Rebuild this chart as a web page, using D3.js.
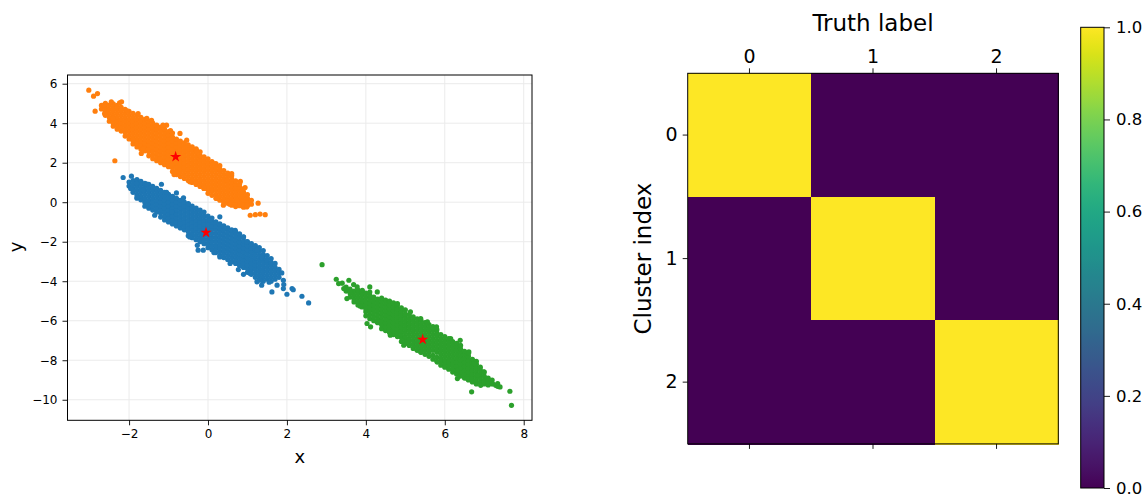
<!DOCTYPE html>
<html>
<head>
<meta charset="utf-8">
<script src="https://cdn.jsdelivr.net/npm/d3@7"></script>
<style>
  body { margin: 0; background: #fff; }
  svg { display: block; }
  text { font-family: "DejaVu Sans", sans-serif; fill: #000; }
</style>
</head>
<body>
<svg id="fig" width="1147" height="497"></svg>
<script>
// ---------- scatter: tick values ----------
const xTicks = [-2, 0, 2, 4, 6, 8];
const yTicks = [-10, -8, -6, -4, -2, 0, 2, 4, 6];

// ---------- scatter: samples of each cluster ----------
// dense part, stored as columns: [x, [y, y, ...]]
const blueCore = [
  [-2.0, [0.82, 1.02]],
  [-1.9, [0.5, 0.7, 0.9, 1.1]],
  [-1.8, [0.2, 0.4, 0.6, 0.8, 1.0, 1.15]],
  [-1.7, [0.12, 0.3, 0.5, 0.7, 0.9, 1.05]],
  [-1.6, [-0.2, 0.0, 0.2, 0.4, 0.6, 0.8, 0.95]],
  [-1.5, [-0.3, -0.1, 0.1, 0.3, 0.5, 0.7, 0.9]],
  [-1.4, [-0.4, -0.2, 0.0, 0.2, 0.4, 0.6, 0.8]],
  [-1.3, [-0.5, -0.3, -0.1, 0.1, 0.3, 0.5, 0.7]],
  [-1.2, [-0.75, -0.55, -0.4, -0.2, 0.0, 0.2, 0.4, 0.6]],
  [-1.1, [-0.9, -0.7, -0.5, -0.3, -0.1, 0.1, 0.3, 0.5]],
  [-1.0, [-1.0, -0.8, -0.6, -0.4, -0.2, 0.0, 0.2, 0.4]],
  [-0.9, [-1.1, -0.9, -0.7, -0.5, -0.3, -0.1, 0.1, 0.3]],
  [-0.8, [-1.2, -1.0, -0.8, -0.6, -0.4, -0.2, 0.0, 0.2]],
  [-0.7, [-1.3, -1.1, -0.9, -0.7, -0.5, -0.3, -0.1, 0.1]],
  [-0.6, [-1.4, -1.2, -1.0, -0.8, -0.6, -0.4, -0.2, 0.0]],
  [-0.5, [-1.7, -1.5, -1.3, -1.1, -0.9, -0.7, -0.5, -0.3, -0.1]],
  [-0.4, [-1.8, -1.6, -1.4, -1.2, -1.0, -0.8, -0.6, -0.4, -0.2]],
  [-0.3, [-1.9, -1.7, -1.5, -1.3, -1.1, -0.9, -0.7, -0.5, -0.3]],
  [-0.2, [-2.0, -1.8, -1.6, -1.4, -1.2, -1.0, -0.8, -0.6, -0.4]],
  [-0.1, [-2.1, -1.9, -1.7, -1.5, -1.3, -1.1, -0.9, -0.7, -0.5]],
  [0.0, [-2.3, -2.1, -1.9, -1.7, -1.5, -1.3, -1.1, -0.9, -0.7]],
  [0.1, [-2.4, -2.2, -2.0, -1.8, -1.6, -1.4, -1.2, -1.0, -0.8]],
  [0.2, [-2.55, -2.35, -2.2, -2.0, -1.8, -1.6, -1.4, -1.2, -1.0]],
  [0.3, [-2.7, -2.5, -2.3, -2.1, -1.9, -1.7, -1.5, -1.3, -1.1]],
  [0.4, [-2.8, -2.6, -2.4, -2.2, -2.0, -1.8, -1.6, -1.4, -1.2]],
  [0.5, [-2.9, -2.7, -2.5, -2.3, -2.1, -1.9, -1.7, -1.5, -1.3]],
  [0.6, [-3.0, -2.8, -2.6, -2.4, -2.2, -2.0, -1.8, -1.6, -1.4]],
  [0.7, [-3.1, -2.9, -2.7, -2.5, -2.3, -2.1, -1.9, -1.7, -1.5]],
  [0.8, [-3.2, -3.0, -2.8, -2.6, -2.4, -2.2, -2.0, -1.8, -1.6]],
  [0.9, [-3.3, -3.1, -2.9, -2.7, -2.5, -2.3, -2.1, -1.95, -1.75]],
  [1.0, [-3.55, -3.35, -3.2, -3.0, -2.8, -2.6, -2.4, -2.2, -2.0]],
  [1.1, [-3.65, -3.45, -3.3, -3.1, -2.9, -2.7, -2.5, -2.3, -2.1]],
  [1.2, [-3.8, -3.6, -3.4, -3.2, -3.0, -2.8, -2.6, -2.4, -2.2]],
  [1.3, [-3.9, -3.7, -3.5, -3.3, -3.1, -2.9, -2.7, -2.5, -2.3]],
  [1.4, [-4.0, -3.8, -3.6, -3.4, -3.2, -3.0, -2.8, -2.65, -2.45]],
  [1.5, [-3.9, -3.7, -3.5, -3.3, -3.1, -2.9, -2.7]],
  [1.6, [-4.0, -3.8, -3.6, -3.4, -3.2, -3.05, -2.85]],
  [1.7, [-3.9, -3.7, -3.5, -3.3, -3.1]],
  [1.8, [-3.8, -3.6, -3.4]]
];
// sparse points around the dense part: [x, y]
const blueSpread = [
  [-2.15, 1.25], [-1.94, 1.32], [-1.81, 0.95], [-1.18, 0.91], [-1.96, 0.69],
  [-1.80, 0.27], [-1.35, -0.66], [-0.80, 0.47], [-0.25, -2.43], [-0.12, -2.43],
  [0.69, -1.42], [2.13, -4.37], [2.38, -4.76], [2.55, -5.10], [1.87, -3.58],
  [1.91, -3.95], [1.62, -4.54], [2.00, -4.66], [1.36, -4.20], [1.24, -4.03],
  [0.90, -3.65], [0.77, -3.41], [1.92, -4.17], [2.16, -4.43], [-1.64, 0.61],
  [-0.50, -0.07], [0.05, -0.91], [0.30, -0.74], [0.90, -1.76], [0.98, -2.01],
  [1.24, -2.43], [1.36, -2.77], [1.49, -2.94], [-0.92, -0.49], [-0.71, -1.08],
  [-0.46, -1.76], [-0.27, -2.18], [0.30, -2.77], [0.56, -3.10], [1.07, -3.61],
  [1.32, -3.95], [1.75, -4.20], [1.91, -4.37], [-1.55, 0.92], [-1.05, 0.50],
  [-0.62, 0.22], [0.15, -2.55], [1.55, -4.05]
];

const orangeCore = [
  [-2.7, [4.72, 4.9]],
  [-2.6, [4.4, 4.6, 4.8, 5.0]],
  [-2.5, [4.1, 4.3, 4.5, 4.7, 4.92]],
  [-2.4, [3.85, 4.0, 4.2, 4.4, 4.6, 4.8, 4.98]],
  [-2.3, [3.7, 3.9, 4.1, 4.3, 4.5, 4.7, 4.9]],
  [-2.2, [3.6, 3.8, 4.0, 4.2, 4.4, 4.6, 4.8]],
  [-2.1, [3.35, 3.55, 3.7, 3.9, 4.1, 4.3, 4.5, 4.7]],
  [-2.0, [3.2, 3.4, 3.6, 3.8, 4.0, 4.2, 4.4, 4.6]],
  [-1.9, [2.95, 3.15, 3.3, 3.5, 3.7, 3.9, 4.1, 4.3, 4.5]],
  [-1.8, [2.8, 3.0, 3.2, 3.4, 3.6, 3.8, 4.0, 4.2, 4.4]],
  [-1.7, [2.7, 2.9, 3.1, 3.3, 3.5, 3.7, 3.9, 4.1, 4.3]],
  [-1.6, [2.6, 2.8, 3.0, 3.2, 3.4, 3.6, 3.8, 4.0, 4.2]],
  [-1.5, [2.35, 2.55, 2.7, 2.9, 3.1, 3.3, 3.5, 3.7, 3.9, 4.1]],
  [-1.4, [2.2, 2.4, 2.6, 2.8, 3.0, 3.2, 3.4, 3.6, 3.8, 4.0]],
  [-1.3, [2.1, 2.3, 2.5, 2.7, 2.9, 3.1, 3.3, 3.5, 3.7, 3.9]],
  [-1.2, [2.0, 2.2, 2.4, 2.6, 2.8, 3.0, 3.2, 3.4, 3.6, 3.8]],
  [-1.1, [1.9, 2.1, 2.3, 2.5, 2.7, 2.9, 3.1, 3.3, 3.5, 3.7]],
  [-1.0, [1.8, 2.0, 2.2, 2.4, 2.6, 2.8, 3.0, 3.2, 3.4, 3.58]],
  [-0.9, [1.55, 1.75, 1.9, 2.1, 2.3, 2.5, 2.7, 2.9, 3.1, 3.3, 3.5]],
  [-0.8, [1.4, 1.6, 1.8, 2.0, 2.2, 2.4, 2.6, 2.8, 3.0, 3.2]],
  [-0.7, [1.3, 1.5, 1.7, 1.9, 2.1, 2.3, 2.5, 2.7, 2.9, 3.1]],
  [-0.6, [1.2, 1.4, 1.6, 1.8, 2.0, 2.2, 2.4, 2.6, 2.8, 3.0]],
  [-0.5, [1.1, 1.3, 1.5, 1.7, 1.9, 2.1, 2.3, 2.5, 2.7, 2.9]],
  [-0.4, [1.0, 1.2, 1.4, 1.6, 1.8, 2.0, 2.2, 2.4, 2.6, 2.8]],
  [-0.3, [0.9, 1.1, 1.3, 1.5, 1.7, 1.9, 2.1, 2.3, 2.5, 2.7]],
  [-0.2, [0.8, 1.0, 1.2, 1.4, 1.6, 1.8, 2.0, 2.2, 2.35, 2.55]],
  [-0.1, [0.7, 0.9, 1.1, 1.3, 1.5, 1.7, 1.9, 2.1, 2.3]],
  [0.0, [0.45, 0.65, 0.8, 1.0, 1.2, 1.4, 1.6, 1.8, 2.0, 2.2]],
  [0.1, [0.35, 0.55, 0.7, 0.9, 1.1, 1.3, 1.5, 1.7, 1.9, 2.05]],
  [0.2, [0.2, 0.4, 0.6, 0.8, 1.0, 1.2, 1.4, 1.6, 1.8, 1.95]],
  [0.3, [0.1, 0.3, 0.5, 0.7, 0.9, 1.1, 1.3, 1.5, 1.68, 1.85]],
  [0.4, [0.0, 0.2, 0.4, 0.6, 0.8, 1.0, 1.2, 1.4, 1.6]],
  [0.5, [-0.05, 0.12, 0.3, 0.5, 0.7, 0.9, 1.1, 1.3, 1.48]],
  [0.6, [-0.15, 0.02, 0.2, 0.4, 0.6, 0.8, 1.0, 1.18, 1.35]],
  [0.7, [-0.22, -0.08, 0.1, 0.3, 0.5, 0.7, 0.9, 1.08]],
  [0.8, [-0.18, 0.0, 0.2, 0.4, 0.6, 0.78, 0.92]],
  [0.9, [-0.25, -0.1, 0.1, 0.3, 0.5, 0.68]],
  [1.0, [-0.18, 0.0, 0.2, 0.38]],
  [1.1, [-0.1, 0.1]]
];
const orangeSpread = [
  [-3.02, 5.67], [-2.90, 5.37], [-2.80, 5.50], [-2.86, 4.61], [-2.64, 4.91],
  [-2.62, 4.49], [-2.45, 5.08], [-2.24, 5.03], [-2.36, 2.10], [-1.69, 2.47],
  [1.07, -0.66], [1.20, -0.63], [1.32, -0.60], [1.45, -0.63], [1.27, -0.05],
  [0.98, -0.24], [-1.05, 3.90], [-0.54, 3.14], [-0.29, 2.63], [0.14, 1.96],
  [0.94, 0.74], [0.48, 1.11], [-0.86, 1.40], [-0.46, 1.03], [0.22, 0.19],
  [0.39, -0.15], [0.73, 0.10], [0.98, -0.15], [-2.19, 5.08], [-1.77, 4.49],
  [-1.43, 4.15], [-1.90, 3.14], [-1.64, 2.72], [-1.22, 2.21], [-1.14, 3.90],
  [-0.71, 3.48], [-0.29, 2.55], [-2.41, 4.24], [-2.05, 4.62], [-1.55, 4.25],
  [-0.95, 3.62], [0.60, 1.45], [0.82, 1.05], [-0.10, 0.70], [0.55, -0.10]
];

const greenCore = [
  [3.5, [-4.5, -4.3]],
  [3.6, [-4.8, -4.6, -4.4]],
  [3.7, [-5.05, -4.9, -4.7, -4.5]],
  [3.8, [-5.2, -5.0, -4.8, -4.6, -4.45]],
  [3.9, [-5.3, -5.1, -4.9, -4.7, -4.52]],
  [4.0, [-5.75, -5.55, -5.4, -5.2, -5.0, -4.8, -4.6]],
  [4.1, [-5.9, -5.7, -5.5, -5.3, -5.1, -4.9, -4.72, -4.55]],
  [4.2, [-6.0, -5.8, -5.6, -5.4, -5.2, -5.0, -4.8]],
  [4.3, [-6.1, -5.9, -5.7, -5.5, -5.3, -5.1, -4.9]],
  [4.4, [-6.4, -6.2, -6.0, -5.8, -5.6, -5.4, -5.2, -5.0, -4.85]],
  [4.5, [-6.5, -6.3, -6.1, -5.9, -5.7, -5.5, -5.3, -5.1, -4.95]],
  [4.6, [-6.6, -6.4, -6.2, -6.0, -5.8, -5.6, -5.4, -5.2, -5.0]],
  [4.7, [-6.7, -6.5, -6.3, -6.1, -5.9, -5.7, -5.5, -5.3, -5.1]],
  [4.8, [-6.8, -6.6, -6.4, -6.2, -6.0, -5.8, -5.6, -5.4, -5.2]],
  [4.9, [-7.05, -6.85, -6.7, -6.5, -6.3, -6.1, -5.9, -5.7, -5.52, -5.35]],
  [5.0, [-7.15, -6.95, -6.8, -6.6, -6.4, -6.2, -6.0, -5.8, -5.65, -5.45]],
  [5.1, [-7.25, -7.05, -6.9, -6.7, -6.5, -6.3, -6.1, -5.9, -5.7]],
  [5.2, [-7.4, -7.2, -7.0, -6.8, -6.6, -6.4, -6.2, -6.0, -5.8]],
  [5.3, [-7.5, -7.3, -7.1, -6.9, -6.7, -6.5, -6.3, -6.1, -5.9]],
  [5.4, [-7.6, -7.4, -7.2, -7.0, -6.8, -6.6, -6.4, -6.2, -6.0]],
  [5.5, [-7.7, -7.5, -7.3, -7.1, -6.9, -6.7, -6.5, -6.3, -6.1]],
  [5.6, [-7.8, -7.6, -7.4, -7.2, -7.0, -6.8, -6.6, -6.4, -6.2]],
  [5.7, [-7.95, -7.75, -7.5, -7.3, -7.1, -6.9, -6.7, -6.5, -6.3]],
  [5.8, [-8.05, -7.85, -7.6, -7.4, -7.2, -7.0, -6.8, -6.62, -6.45]],
  [5.9, [-8.25, -8.05, -7.9, -7.7, -7.5, -7.3, -7.1, -6.9, -6.7]],
  [6.0, [-8.35, -8.15, -8.0, -7.8, -7.6, -7.4, -7.2, -7.0, -6.8]],
  [6.1, [-8.45, -8.25, -8.1, -7.9, -7.7, -7.5, -7.3, -7.1, -6.9]],
  [6.2, [-8.6, -8.4, -8.2, -8.0, -7.8, -7.6, -7.4, -7.2, -7.05]],
  [6.3, [-8.7, -8.5, -8.3, -8.1, -7.9, -7.7, -7.5, -7.3, -7.15]],
  [6.4, [-8.8, -8.6, -8.4, -8.2, -8.0, -7.8, -7.6, -7.42, -7.25]],
  [6.5, [-8.9, -8.7, -8.5, -8.3, -8.1, -7.9, -7.7, -7.55]],
  [6.6, [-9.0, -8.8, -8.6, -8.4, -8.2, -8.0, -7.8, -7.65]],
  [6.7, [-9.1, -8.9, -8.7, -8.5, -8.3, -8.1, -7.95]],
  [6.8, [-9.2, -9.0, -8.8, -8.6, -8.4, -8.2, -8.05]],
  [6.9, [-9.1, -8.9, -8.7, -8.5, -8.35]],
  [7.0, [-9.2, -9.0, -8.8, -8.6]],
  [7.1, [-9.25, -9.1, -8.9]],
  [7.2, [-9.2, -9.0]]
];
const greenSpread = [
  [2.89, -3.16], [3.25, -3.90], [3.31, -4.12], [3.57, -3.95], [3.69, -4.17],
  [3.44, -4.37], [3.52, -4.88], [3.91, -4.46], [4.10, -4.29], [4.03, -6.14],
  [4.12, -6.31], [5.79, -6.31], [6.39, -6.99], [6.61, -7.58], [6.68, -9.60],
  [7.65, -9.57], [7.69, -10.28], [7.34, -9.32], [7.21, -9.18], [6.32, -8.93],
  [3.61, -4.54], [3.78, -4.29], [5.13, -5.55], [5.39, -5.89], [6.99, -8.59],
  [6.83, -8.76], [7.08, -8.93], [7.29, -9.27], [6.91, -9.27], [6.57, -8.93],
  [6.32, -8.51], [5.81, -8.09], [5.39, -7.58], [4.96, -7.24], [4.62, -6.73],
  [4.29, -6.06], [4.29, -4.54], [4.80, -5.13], [5.56, -6.06], [6.15, -6.90],
  [6.74, -8.17], [7.34, -9.18], [3.40, -4.10], [3.85, -5.25], [7.40, -9.35]
];

// cluster centres (red stars)
const centres = [[-0.05, -1.54], [-0.82, 2.30], [5.44, -6.95]];

// ---------- matrix ----------
const truthLabels = [0, 1, 2];
const clusterIndex = [0, 1, 2];
const matrix = [
  [1, 0, 0],
  [0, 1, 0],
  [0, 0, 1]
];
const cbTicks = [0.0, 0.2, 0.4, 0.6, 0.8, 1.0];

// ---------------------------------------------------------------
const svg = d3.select("#fig");
const minus = s => String(s).replace("-", "\u2212");
const columnsToPoints = cols => cols.flatMap(([cx, ys]) => ys.map(cy => [cx, cy]));

// ===== left panel: scatter =====
const L = { left: 67.5, right: 532, top: 75, bottom: 420.3 };
const x = d3.scaleLinear().domain([-3.56, 8.21]).range([L.left, L.right]);
const y = d3.scaleLinear().domain([-11.04, 6.44]).range([L.bottom, L.top]);

const grid = svg.append("g").attr("stroke", "#ebebeb").attr("stroke-width", 1);
grid.selectAll("line.gx").data(xTicks).join("line")
  .attr("x1", d => x(d)).attr("x2", d => x(d))
  .attr("y1", L.top).attr("y2", L.bottom);
grid.selectAll("line.gy").data(yTicks).join("line")
  .attr("y1", d => y(d)).attr("y2", d => y(d))
  .attr("x1", L.left).attr("x2", L.right);

const series = [
  { core: blueCore, spread: blueSpread, color: "#1f77b4" },
  { core: orangeCore, spread: orangeSpread, color: "#ff7f0e" },
  { core: greenCore, spread: greenSpread, color: "#2ca02c" }
];
series.forEach(s => {
  const pts = columnsToPoints(s.core).concat(s.spread);
  svg.append("g").selectAll("circle").data(pts).join("circle")
    .attr("cx", d => x(d[0])).attr("cy", d => y(d[1]))
    .attr("r", 2.6).attr("fill", s.color);
});

const star = d3.symbol().type(d3.symbolStar).size(40);
svg.append("g").selectAll("path").data(centres).join("path")
  .attr("d", star)
  .attr("transform", d => `translate(${x(d[0])},${y(d[1])})`)
  .attr("fill", "#ff0000");

const xAxis = svg.append("g").attr("transform", `translate(0,${L.bottom})`)
  .call(d3.axisBottom(x).tickValues(xTicks).tickFormat(minus).tickSize(5).tickPadding(4));
const yAxis = svg.append("g").attr("transform", `translate(${L.left},0)`)
  .call(d3.axisLeft(y).tickValues(yTicks).tickFormat(minus).tickSize(5).tickPadding(5));
[xAxis, yAxis].forEach(a => {
  a.select(".domain").remove();
  a.selectAll("line").attr("stroke", "#000").attr("stroke-width", 0.9);
  a.selectAll("text").attr("font-size", 12).attr("font-family", "DejaVu Sans").attr("fill", "#000");
});
svg.append("rect").attr("x", L.left).attr("y", L.top)
  .attr("width", L.right - L.left).attr("height", L.bottom - L.top)
  .attr("fill", "none").attr("stroke", "#000").attr("stroke-width", 1);

svg.append("text").attr("x", (L.left + L.right) / 2).attr("y", 463)
  .attr("text-anchor", "middle").attr("font-size", 18).text("x");
svg.append("text").attr("transform", "translate(22,247) rotate(-90)")
  .attr("text-anchor", "middle").attr("font-size", 18).text("y");

// ===== right panel: matrix =====
const M = { left: 687.7, right: 1058.3, top: 73.3, bottom: 443.9 };
const col = d3.scaleBand().domain(truthLabels).range([M.left, M.right]);
const row = d3.scaleBand().domain(clusterIndex).range([M.top, M.bottom]);
const viridis = d3.scaleSequential(d3.interpolateViridis).domain([0, 1]);

const cells = matrix.flatMap((r, i) => r.map((v, j) => ({ i, j, v })));
svg.append("g").attr("shape-rendering", "crispEdges")
  .selectAll("rect").data(cells).join("rect")
  .attr("x", d => col(d.j)).attr("y", d => row(d.i))
  .attr("width", col.bandwidth() + 0.6).attr("height", row.bandwidth() + 0.6)
  .attr("fill", d => viridis(d.v));
svg.append("rect").attr("x", M.left).attr("y", M.top)
  .attr("width", M.right - M.left).attr("height", M.bottom - M.top)
  .attr("fill", "none").attr("stroke", "#000").attr("stroke-width", 1);

const topAxis = svg.append("g").attr("transform", `translate(0,${M.top})`)
  .call(d3.axisTop(col).tickSize(5).tickPadding(5));
const bottomAxis = svg.append("g").attr("transform", `translate(0,${M.bottom})`)
  .call(d3.axisBottom(col).tickSize(5).tickFormat(""));
const leftAxis = svg.append("g").attr("transform", `translate(${M.left},0)`)
  .call(d3.axisLeft(row).tickSize(5).tickPadding(5));
[topAxis, bottomAxis, leftAxis].forEach(a => {
  a.select(".domain").remove();
  a.selectAll("line").attr("stroke", "#000").attr("stroke-width", 0.9);
  a.selectAll("text").attr("font-size", 19).attr("font-family", "DejaVu Sans").attr("fill", "#000");
});

svg.append("text").attr("x", (M.left + M.right) / 2).attr("y", 31)
  .attr("text-anchor", "middle").attr("font-size", 23).text("Truth label");
svg.append("text").attr("transform", `translate(651,${(M.top + M.bottom) / 2}) rotate(-90)`)
  .attr("text-anchor", "middle").attr("font-size", 23).text("Cluster index");

// ===== colour bar =====
const CB = { left: 1080.7, right: 1104, top: 27.3, bottom: 488 };
const defs = svg.append("defs");
const grad = defs.append("linearGradient").attr("id", "cbGrad")
  .attr("x1", 0).attr("y1", 1).attr("x2", 0).attr("y2", 0);
d3.range(0, 1.0001, 0.02).forEach(t => {
  grad.append("stop").attr("offset", t).attr("stop-color", d3.interpolateViridis(t));
});
svg.append("rect").attr("x", CB.left).attr("y", CB.top)
  .attr("width", CB.right - CB.left).attr("height", CB.bottom - CB.top)
  .attr("fill", "url(#cbGrad)").attr("stroke", "#000").attr("stroke-width", 1);
const cbScale = d3.scaleLinear().domain([0, 1]).range([CB.bottom, CB.top]);
const cbAxis = svg.append("g").attr("transform", `translate(${CB.right},0)`)
  .call(d3.axisRight(cbScale).tickValues(cbTicks).tickFormat(d3.format(".1f")).tickSize(6).tickPadding(6));
cbAxis.select(".domain").remove();
cbAxis.selectAll("line").attr("stroke", "#000").attr("stroke-width", 0.9);
cbAxis.selectAll("text").attr("font-size", 16.5).attr("font-family", "DejaVu Sans").attr("fill", "#000");
</script>
</body>
</html>
